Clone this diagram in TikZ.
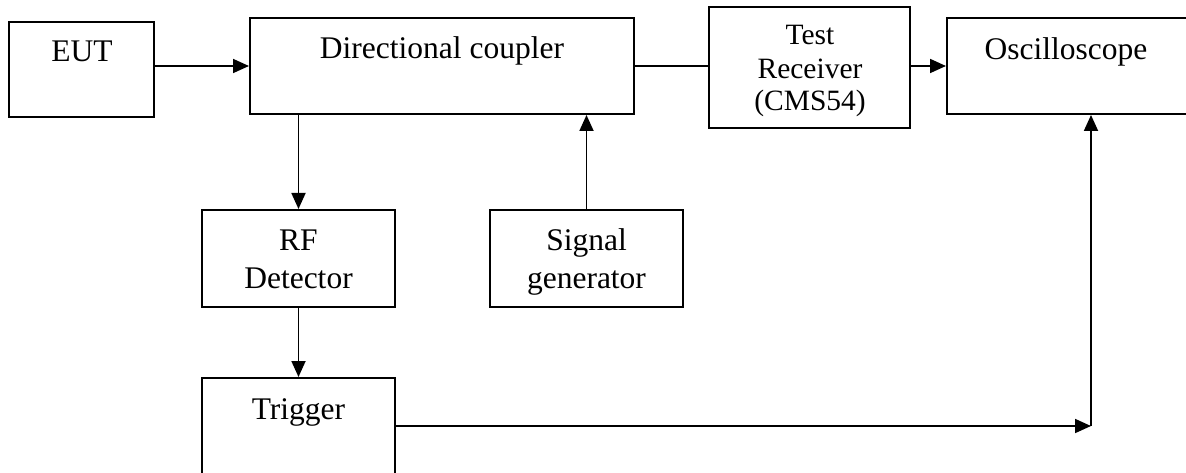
\documentclass[tikz,border=0pt]{standalone}
\usepackage{fontspec}
\setmainfont{Liberation Serif}
\usetikzlibrary{arrows.meta}
\begin{document}
\begin{tikzpicture}[x=1pt,y=-1pt,
  box/.style={draw,line width=2pt,rectangle,inner sep=0pt},
  lbl/.style={anchor=base,inner sep=0pt,font=\fontsize{31.5}{38}\selectfont},
  lbls/.style={anchor=base,inner sep=0pt,font=\fontsize{29.5}{33}\selectfont},
  conn/.style={line width=1.8pt},
  arr/.style={conn,-{Triangle[length=16pt,width=14pt]}}]
\useasboundingbox (0,0) rectangle (1186,473);
\node[box,minimum width=145pt,minimum height=95pt] (EUT) at (81.5,69.5) {};
\node[box,minimum width=384pt,minimum height=96pt] (DC) at (442,66) {};
\node[box,minimum width=201pt,minimum height=121pt] (TR) at (809.5,67.5) {};
\node[box,minimum width=241pt,minimum height=96pt] (Osc) at (1067.5,66) {};
\node[box,minimum width=193pt,minimum height=97pt] (RF) at (298.5,258.5) {};
\node[box,minimum width=193pt,minimum height=97pt] (SG) at (586.5,258.5) {};
\node[box,minimum width=193pt,minimum height=102pt] (Trig) at (298.5,429) {};
\coordinate (corner) at (1091,426);
% labels
\node[lbl] (EUTt) at (82,62) {EUT};
\node[lbl] (DCt) at (442,59) {Directional coupler};
\node[lbls] (TRt1) at (810,45) {Test};
\node[lbls] (TRt2) at (810,79) {Receiver};
\node[lbls] (TRt3) at (810,111) {(CMS54)};
\node[lbl] (Osct) at (1066,60) {Oscilloscope};
\node[lbl] (RFt1) at (298.5,251) {RF};
\node[lbl] (RFt2) at (298.5,288) {Detector};
\node[lbl] (SGt1) at (586.5,251) {Signal};
\node[lbl] (SGt2) at (586.5,288) {generator};
\node[lbl] (Trigt) at (298.5,419) {Trigger};
% connectors
\draw[arr] (EUT.east |- DC.west) -- (DC.west);
\draw[conn] (DC.east) -- (DC.east -| TR.west);
\draw[arr] (TR.east |- Osc.west) -- (Osc.west);
\draw[arr] (DC.south -| RF.north) -- (RF.north);
\draw[arr] (SG.north) -- (SG.north |- DC.south);
\draw[arr] (RF.south) -- (Trig.north);
\draw[arr] (Trig.east |- corner) -- (corner);
\draw[arr] (corner) -- (corner |- Osc.south);
\end{tikzpicture}
\end{document}
